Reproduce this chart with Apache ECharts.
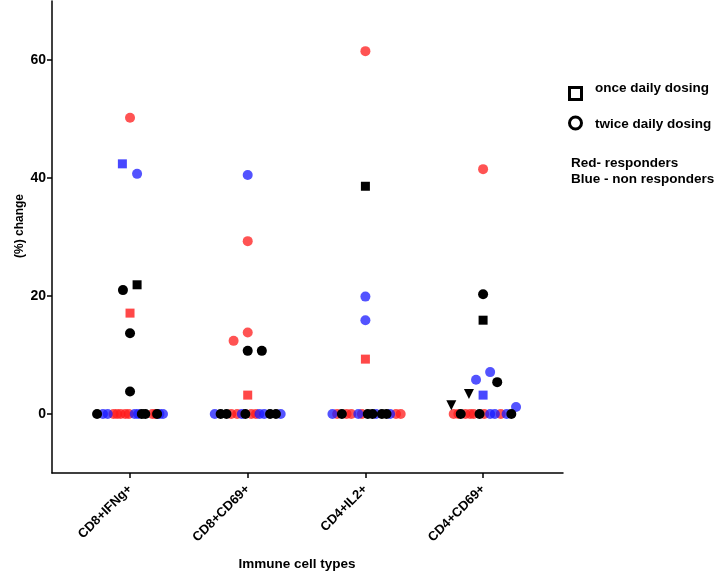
<!DOCTYPE html>
<html>
<head>
<meta charset="utf-8">
<script src="https://cdn.jsdelivr.net/npm/echarts@6/dist/echarts.min.js"></script>
<style>html,body{margin:0;padding:0;background:#fff}#c{width:718px;height:572px}</style>
</head>
<body>
<div id="c"></div>
<script>
// categories
var categories = ['CD8+IFNg+', 'CD8+CD69+', 'CD4+IL2+', 'CD4+CD69+'];
var yTicks = [0, 20, 40, 60];
// points: [categoryIndex, jitter, value]
var redCircles = [
  [0, 0, 50.2],
  [0, -0.14, 0], [0, -0.11, 0], [0, -0.08, 0], [0, -0.04, 0], [0, -0.01, 0], [0, 0.19, 0], [0, 0.22, 0],
  [1, 0, 29.3], [1, 0, 13.8], [1, -0.12, 12.4],
  [1, -0.14, 0], [1, -0.09, 0], [1, 0.03, 0], [1, 0.07, 0],
  [2, 0, 61.5],
  [2, -0.24, 0], [2, -0.16, 0], [2, -0.12, 0], [2, -0.03, 0], [2, 0.26, 0], [2, 0.30, 0],
  [3, 0, 41.5],
  [3, -0.25, 0], [3, -0.21, 0], [3, -0.15, 0], [3, -0.11, 0], [3, -0.08, 0], [3, 0.01, 0], [3, 0.15, 0]
];
var blueCircles = [
  [0, 0.06, 40.7],
  [0, -0.23, 0], [0, -0.19, 0], [0, 0.04, 0], [0, 0.07, 0], [0, 0.25, 0], [0, 0.28, 0],
  [1, 0, 40.5],
  [1, -0.28, 0], [1, -0.05, 0], [1, 0.10, 0], [1, 0.14, 0], [1, 0.28, 0],
  [2, 0, 19.9], [2, 0, 15.9],
  [2, -0.28, 0], [2, -0.06, 0], [2, 0.09, 0], [2, 0.21, 0],
  [3, 0.06, 7.1], [3, -0.06, 5.8], [3, 0.28, 1.2],
  [3, 0.06, 0], [3, 0.10, 0], [3, 0.20, 0]
];
var blackCircles = [
  [0, -0.06, 21.0], [0, 0, 13.7], [0, 0, 3.8],
  [0, -0.28, 0], [0, 0.10, 0], [0, 0.13, 0], [0, 0.23, 0],
  [1, 0, 10.7], [1, 0.12, 10.7],
  [1, -0.23, 0], [1, -0.18, 0], [1, -0.02, 0], [1, 0.19, 0], [1, 0.24, 0],
  [2, -0.20, 0], [2, 0.02, 0], [2, 0.06, 0], [2, 0.14, 0], [2, 0.18, 0],
  [3, 0, 20.3], [3, 0.12, 5.4],
  [3, -0.19, 0], [3, -0.03, 0], [3, 0.24, 0]
];
var redSquares = [[0, 0, 17.1], [1, 0, 3.2], [2, 0, 9.3]];
var blueSquares = [[0, -0.065, 42.4], [3, 0, 3.2]];
var blackSquares = [[0, 0.06, 21.9], [2, 0, 38.6], [3, 0, 15.9]];
var blackTriangles = [[3, -0.12, 3.4], [3, -0.27, 1.5]];

function pts(arr) { return arr.map(function (p) { return [p[0] + p[1], p[2]]; }); }

var RED = '#ff1a1a';
var BLUE = '#1a1aff';
var BLACK = '#000000';
var font = '"Liberation Sans", Arial, sans-serif';

function sc(name, data, symbol, size, color, opacity, rot) {
  return {
    type: 'scatter', name: name, data: pts(data), symbol: symbol, symbolSize: size,
    symbolRotate: rot || 0, itemStyle: { color: color, opacity: opacity }, silent: true
  };
}

var chart = echarts.init(document.getElementById('c'), null, { renderer: 'canvas' });
chart.setOption({
  animation: false,
  backgroundColor: '#fff',
  grid: { left: 52, right: 155, top: 1, bottom: 99 },
  xAxis: {
    type: 'value', min: -0.663, max: 3.679,
    splitLine: { show: false },
    axisLine: { show: true, onZero: false, lineStyle: { color: '#000', width: 1.5 } },
    axisTick: { show: true, length: 5, lineStyle: { color: '#000', width: 1.5 }, customValues: [0, 1, 2, 3] },
    axisLabel: {
      customValues: [0, 1, 2, 3], rotate: 45, margin: 14,
      color: '#000', fontWeight: 'bold', fontSize: 13, fontFamily: font,
      formatter: function (v) { return categories[Math.round(v)]; }
    }
  },
  yAxis: {
    type: 'value', min: -10, max: 70,
    splitLine: { show: false },
    axisLine: { show: true, onZero: false, lineStyle: { color: '#000', width: 1.5 } },
    axisTick: { show: true, length: 5, lineStyle: { color: '#000', width: 1.5 }, customValues: yTicks },
    axisLabel: { customValues: yTicks, margin: 6, color: '#000', fontWeight: 'bold', fontSize: 14, fontFamily: font }
  },
  series: [
    sc('redC', redCircles, 'circle', 10, RED, 0.75),
    sc('blueC', blueCircles, 'circle', 10, BLUE, 0.75),
    sc('blackC', blackCircles, 'circle', 10, BLACK, 1),
    sc('redS', redSquares, 'rect', 9, RED, 0.8),
    sc('blueS', blueSquares, 'rect', 9, BLUE, 0.8),
    sc('blackS', blackSquares, 'rect', 9, BLACK, 1),
    sc('blackT', blackTriangles, 'triangle', 10, BLACK, 1, 180)
  ],
  graphic: [
    { type: 'text', x: 20, y: 226, rotation: Math.PI / 2,
      style: { text: '(%) change', fill: '#000', font: 'bold 12px ' + font, textAlign: 'center', textVerticalAlign: 'middle' } },
    { type: 'text', x: 297, y: 564,
      style: { text: 'Immune cell types', fill: '#000', font: 'bold 13.5px ' + font, textAlign: 'center', textVerticalAlign: 'middle' } },
    { type: 'rect', shape: { x: 569.5, y: 87.5, width: 12, height: 12 }, style: { fill: 'none', stroke: '#000', lineWidth: 3 } },
    { type: 'circle', shape: { cx: 575.5, cy: 123, r: 6 }, style: { fill: 'none', stroke: '#000', lineWidth: 3 } },
    { type: 'text', x: 595, y: 88, style: { text: 'once daily dosing', fill: '#000', font: 'bold 13.5px ' + font, textVerticalAlign: 'middle' } },
    { type: 'text', x: 595, y: 124, style: { text: 'twice daily dosing', fill: '#000', font: 'bold 13.5px ' + font, textVerticalAlign: 'middle' } },
    { type: 'text', x: 571, y: 163, style: { text: 'Red- responders', fill: '#000', font: 'bold 13.5px ' + font, textVerticalAlign: 'middle' } },
    { type: 'text', x: 571, y: 179, style: { text: 'Blue - non responders', fill: '#000', font: 'bold 13.5px ' + font, textVerticalAlign: 'middle' } }
  ]
});
</script>
</body>
</html>
